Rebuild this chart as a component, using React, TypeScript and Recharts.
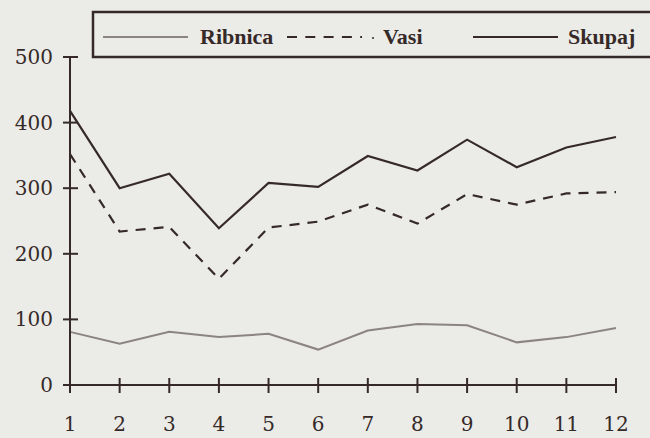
import React from "react";
import { LineChart, Line, XAxis, YAxis } from "recharts";

const months = [1, 2, 3, 4, 5, 6, 7, 8, 9, 10, 11, 12];
const ribnica = [81, 63, 81, 73, 78, 54, 83, 93, 91, 65, 73, 87];
const vasi = [352, 234, 241, 162, 240, 249, 275, 246, 291, 275, 292, 294];
const skupaj = [418, 300, 322, 239, 308, 302, 349, 327, 374, 332, 362, 378];
const yTicks = [0, 100, 200, 300, 400, 500];
const seriesNames = ["Ribnica", "Vasi", "Skupaj"];

const data = months.map((m, i) => ({
  m,
  ribnica: ribnica[i],
  vasi: vasi[i],
  skupaj: skupaj[i],
}));

const INK = "#352a28";
const GREY = "#8c8482";
const BG = "#ebebe8";
const AXIS_FONT = "'DejaVu Serif', serif";
const LEGEND_FONT = "'Liberation Serif', serif";

const YTick = (props: any) => {
  const { x, y, payload } = props;
  return (
    <g>
      <line x1={x - 7} x2={x + 8} y1={y} y2={y} stroke={INK} strokeWidth={2} />
      <text
        x={x - 17}
        y={y}
        textAnchor="end"
        dominantBaseline="central"
        fontFamily={AXIS_FONT}
        fontSize={20}
        fill={INK}
      >
        {payload.value}
      </text>
    </g>
  );
};

const XTick = (props: any) => {
  const { x, y, payload } = props;
  return (
    <g>
      <line x1={x} x2={x} y1={y - 7} y2={y + 8} stroke={INK} strokeWidth={2} />
      <text
        x={x}
        y={y + 46}
        textAnchor="middle"
        fontFamily={AXIS_FONT}
        fontSize={20}
        fill={INK}
      >
        {payload.value}
      </text>
    </g>
  );
};

export default function App() {
  return (
    <div
      style={{
        position: "absolute",
        left: 0,
        top: 0,
        width: 650,
        height: 438,
        overflow: "hidden",
        background: BG,
      }}
    >
      <LineChart
        width={650}
        height={438}
        data={data}
        margin={{ top: 57, right: 34, left: 0, bottom: 0 }}
      >
        <XAxis
          dataKey="m"
          type="number"
          domain={[1, 12]}
          ticks={months}
          interval={0}
          height={53}
          tickSize={0}
          tickMargin={0}
          tickLine={false}
          axisLine={{ stroke: INK, strokeWidth: 2 }}
          tick={<XTick />}
        />
        <YAxis
          type="number"
          domain={[0, 500]}
          ticks={yTicks}
          width={70}
          tickSize={0}
          tickMargin={0}
          tickLine={false}
          axisLine={{ stroke: INK, strokeWidth: 2 }}
          tick={<YTick />}
        />
        <Line
          dataKey="ribnica"
          stroke={GREY}
          strokeWidth={2}
          dot={false}
          isAnimationActive={false}
        />
        <Line
          dataKey="vasi"
          stroke={INK}
          strokeWidth={2.2}
          strokeDasharray="10 8"
          dot={false}
          isAnimationActive={false}
        />
        <Line
          dataKey="skupaj"
          stroke={INK}
          strokeWidth={2.2}
          dot={false}
          isAnimationActive={false}
        />
      </LineChart>
      <svg
        width={650}
        height={438}
        style={{ position: "absolute", left: 0, top: 0, pointerEvents: "none" }}
      >
        <rect x={93} y={12} width={620} height={45} fill={BG} stroke={INK} strokeWidth={2.5} />
        <line x1={103} x2={188} y1={37} y2={37} stroke={GREY} strokeWidth={2} />
        <text x={200} y={44} fontFamily={LEGEND_FONT} fontWeight="bold" fontSize={22} fill={INK}>
          {seriesNames[0]}
        </text>
        <line x1={287} x2={362} y1={37} y2={37} stroke={INK} strokeWidth={2} strokeDasharray="10 8.3" />
        <circle cx={373} cy={38} r={1} fill={INK} />
        <text x={383} y={44} fontFamily={LEGEND_FONT} fontWeight="bold" fontSize={22} fill={INK}>
          {seriesNames[1]}
        </text>
        <line x1={473} x2={558} y1={37} y2={37} stroke={INK} strokeWidth={2} />
        <text x={568} y={44} fontFamily={LEGEND_FONT} fontWeight="bold" fontSize={22} fill={INK}>
          {seriesNames[2]}
        </text>
      </svg>
    </div>
  );
}
